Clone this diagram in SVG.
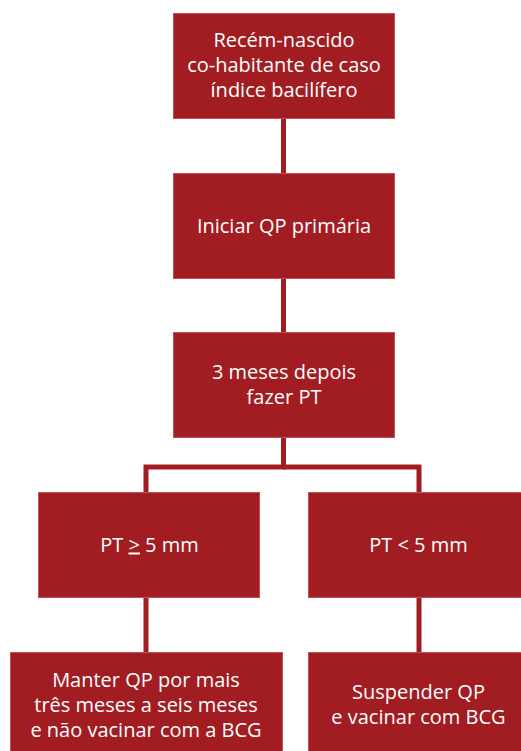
<svg xmlns="http://www.w3.org/2000/svg" width="521" height="751" viewBox="0 0 521 751">
<style>
.box{fill:#A11D22;stroke:#BE5257;stroke-width:1}
.t{font-family:"Open Sans","Noto Sans",sans-serif;font-size:20px;fill:#FFFFFF;text-anchor:middle}
.c{fill:none;stroke:#A11D22;stroke-width:5}
</style>
<rect width="521" height="751" fill="#FFFFFF"/>
<g id="connectors">
<line class="c" x1="283.5" y1="119" x2="283.5" y2="173"/>
<line class="c" x1="283.5" y1="279" x2="283.5" y2="332"/>
<polyline class="c" points="283.5,438 283.5,467 146,467 146,492"/>
<polyline class="c" points="283.5,467 419,467 419,492"/>
<line class="c" x1="146" y1="598" x2="146" y2="652"/>
<line class="c" x1="419" y1="598" x2="419" y2="652"/>
</g>
<g id="n1">
<rect class="box" x="173.5" y="13.5" width="221" height="105"/>
<text class="t" x="284" y="47">Recém-nascido</text>
<text class="t" x="284" y="72">co-habitante de caso</text>
<text class="t" x="284" y="97">índice bacilífero</text>
</g>
<g id="n2">
<rect class="box" x="173.5" y="173.5" width="221" height="105"/>
<text class="t" x="284" y="233">Iniciar QP primária</text>
</g>
<g id="n3">
<rect class="box" x="173.5" y="332.5" width="221" height="105"/>
<text class="t" x="284" y="379">3 meses depois</text>
<text class="t" x="284" y="404">fazer PT</text>
</g>
<g id="n4">
<rect class="box" x="38.5" y="492.5" width="221" height="105"/>
<text class="t" x="149.5" y="551.5">PT <tspan text-decoration="underline">&gt;</tspan> 5 mm</text>
</g>
<g id="n5">
<rect class="box" x="308.5" y="492.5" width="220" height="105"/>
<text class="t" x="418.5" y="551.5">PT &lt; 5 mm</text>
</g>
<g id="n6">
<rect class="box" x="10.5" y="652.5" width="272" height="105"/>
<text class="t" x="146" y="686.5">Manter QP por mais</text>
<text class="t" x="146" y="711.5">três meses a seis meses</text>
<text class="t" x="146" y="736.5">e não vacinar com a BCG</text>
</g>
<g id="n7">
<rect class="box" x="308.5" y="652.5" width="220" height="105"/>
<text class="t" x="418.5" y="699">Suspender QP</text>
<text class="t" x="418.5" y="724">e vacinar com BCG</text>
</g>
</svg>
